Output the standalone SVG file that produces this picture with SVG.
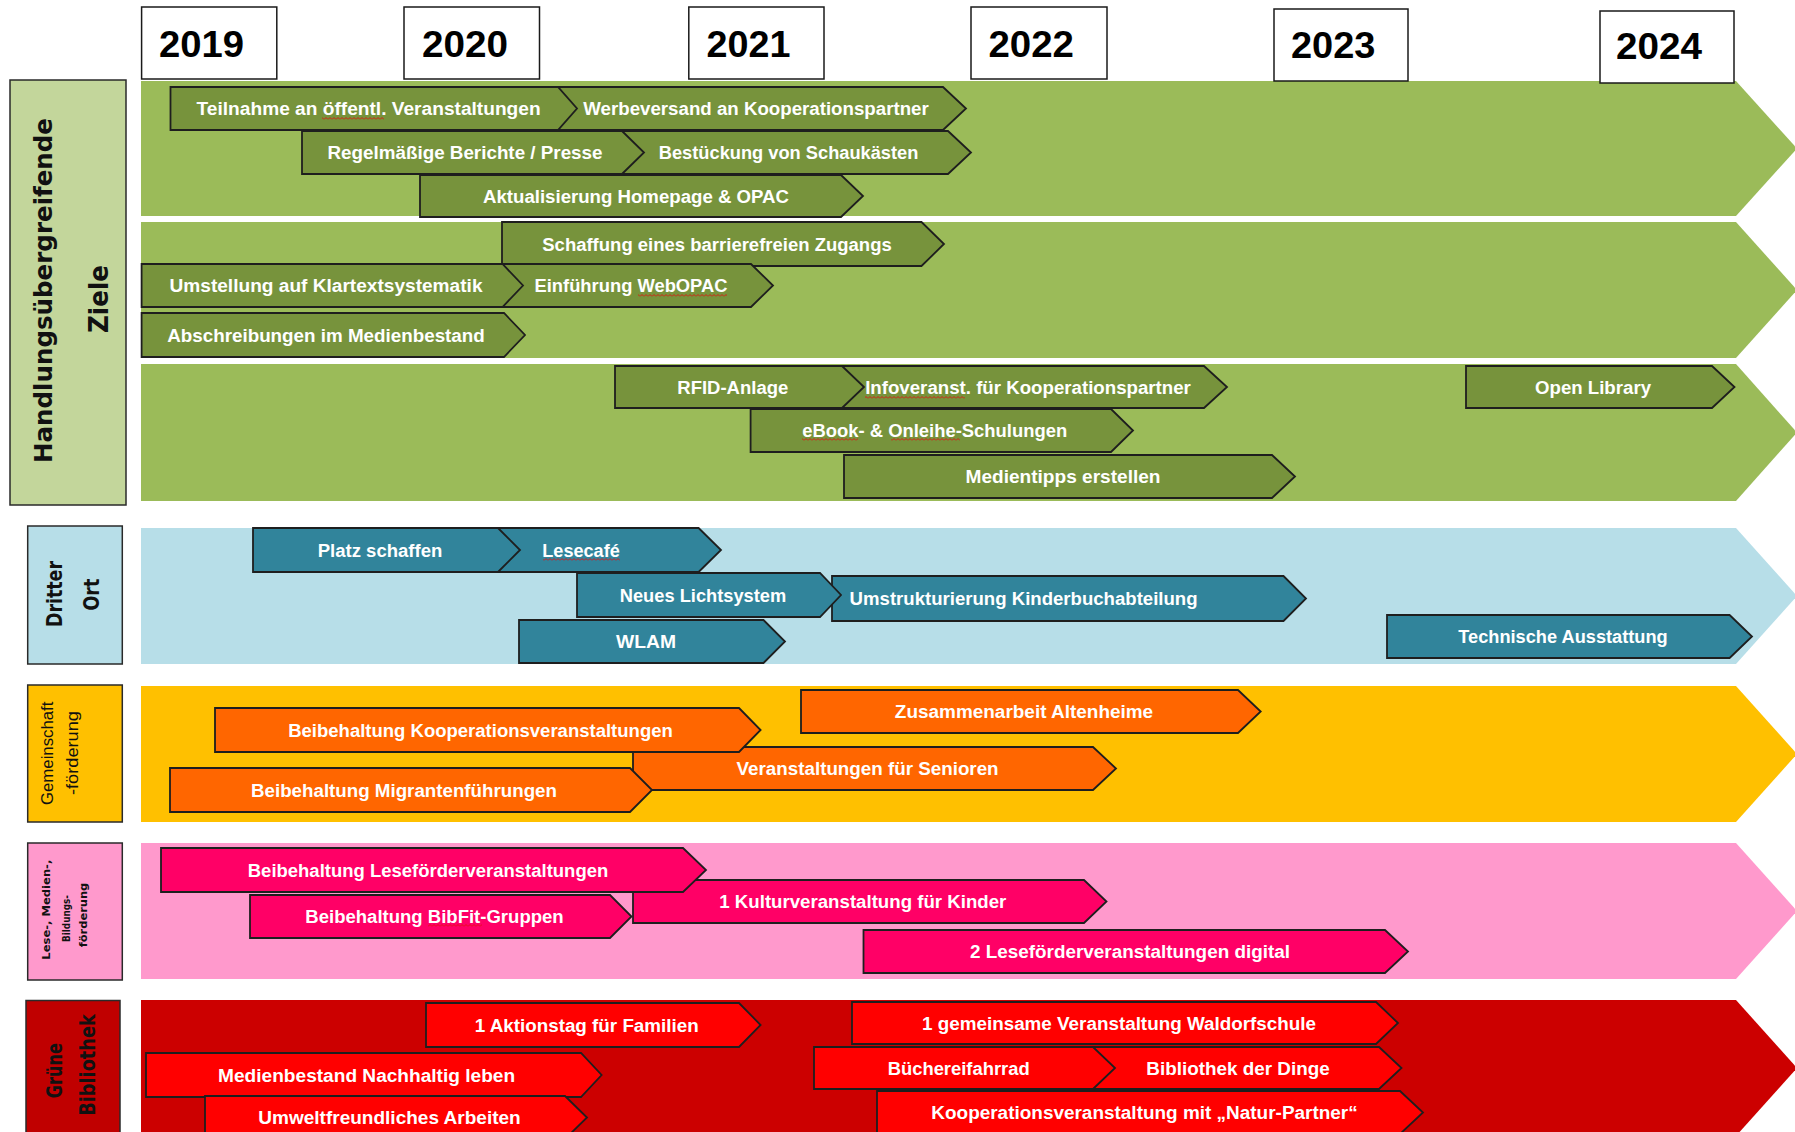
<svg xmlns="http://www.w3.org/2000/svg" width="1795" height="1132" viewBox="0 0 1795 1132">
<style>
.band-g{fill:#9bbb59}
.band-b{fill:#b7dee8}
.band-y{fill:#ffc000}
.band-p{fill:#ff99cc}
.band-r{fill:#cc0000}
.t{stroke:#1e1e1e;stroke-width:1.8;stroke-linejoin:miter}
.tg{fill:#77933c}
.tb{fill:#31849b}
.ty{fill:#ff6600}
.tp{fill:#ff0066}
.tr{fill:#ff0000}
.lbl{fill:#ffffff;font-family:"Liberation Sans",Arial,sans-serif;font-weight:bold;font-size:18px;text-anchor:middle}
.yr{fill:#ffffff;stroke:#1a1a1a;stroke-width:1.5}
.yt{fill:#000000;font-family:"Liberation Sans",Arial,sans-serif;font-weight:bold;font-size:36px}
.side{stroke:#2a2a2a;stroke-width:1.5}
.st{font-family:"DejaVu Sans",Verdana,sans-serif;font-weight:bold;text-anchor:middle;fill:#111111}
.sq{fill:url(#squig)}
</style>
<defs>
<pattern id="squig" patternUnits="userSpaceOnUse" x="0" y="0" width="4" height="3">
<path d="M0,2.5 L2,0.5 L4,2.5" fill="none" stroke="#e01010" stroke-width="0.9"/>
</pattern>
</defs>

<g id="bands">
<path id="band-1" class="band-g" d="M141,81 H1736 L1797,148.5 L1736,216 H141 Z"/>
<path id="band-2" class="band-g" d="M141,222 H1736 L1797,290 L1736,358 H141 Z"/>
<path id="band-3" class="band-g" d="M141,364 H1736 L1797,432.5 L1736,501 H141 Z"/>
<path id="band-dritter-ort" class="band-b" d="M141,528 H1736 L1797,596 L1736,664 H141 Z"/>
<path id="band-gemeinschaft" class="band-y" d="M141,686 H1736 L1797,754 L1736,822 H141 Z"/>
<path id="band-lese" class="band-p" d="M141,843 H1736 L1797,911 L1736,979 H141 Z"/>
<path id="band-gruene" class="band-r" d="M141,1000 H1736 L1797,1068 L1736,1136 H141 Z"/>
</g>

<g id="connectors"></g>

<g id="label-handlung">
<rect class="side" x="10" y="80" width="116" height="425" fill="#c3d69b"/>
<text class="st" font-size="25" textLength="345" lengthAdjust="spacingAndGlyphs" transform="translate(51.7,290.5) rotate(-90)">Handlungsübergreifende</text>
<text class="st" font-size="27" textLength="68" lengthAdjust="spacingAndGlyphs" transform="translate(108.3,299) rotate(-90)">Ziele</text>
</g>
<g id="label-dritter-ort">
<rect class="side" x="27.7" y="526" width="94.6" height="138" fill="#b7dee8"/>
<text class="st" font-size="22" textLength="66" lengthAdjust="spacingAndGlyphs" transform="translate(61.5,594) rotate(-90)">Dritter</text>
<text class="st" font-size="22" textLength="32" lengthAdjust="spacingAndGlyphs" transform="translate(98.5,594.6) rotate(-90)">Ort</text>
</g>
<g id="label-gemeinschaft">
<rect class="side" x="27.7" y="685" width="94.6" height="137" fill="#ffc000"/>
<text font-family="'Liberation Sans',Arial,sans-serif" font-size="16" fill="#111" text-anchor="middle" textLength="103.5" lengthAdjust="spacingAndGlyphs" transform="translate(53.4,753.3) rotate(-90)">Gemeinschaft</text>
<text font-family="'Liberation Sans',Arial,sans-serif" font-size="16" fill="#111" text-anchor="middle" textLength="84" lengthAdjust="spacingAndGlyphs" transform="translate(78.4,753) rotate(-90)">-förderung</text>
</g>
<g id="label-lese">
<rect class="side" x="27.7" y="843" width="94.6" height="137" fill="#ff99cc"/>
<text class="st" font-size="11" textLength="100" lengthAdjust="spacingAndGlyphs" transform="translate(50,909.7) rotate(-90)">Lese-, Medien-,</text>
<text class="st" font-size="11" textLength="47" lengthAdjust="spacingAndGlyphs" transform="translate(70,918.5) rotate(-90)">Bildungs-</text>
<text class="st" font-size="11" textLength="64.5" lengthAdjust="spacingAndGlyphs" transform="translate(86.5,915) rotate(-90)">förderung</text>
</g>
<g id="label-gruene">
<rect class="side" x="26" y="1000.5" width="94" height="140" fill="#c00000"/>
<text class="st" font-size="22" fill="#1c1c1c" textLength="55" lengthAdjust="spacingAndGlyphs" transform="translate(62,1070.7) rotate(-90)">Grüne</text>
<text class="st" font-size="22" fill="#1c1c1c" textLength="101.6" lengthAdjust="spacingAndGlyphs" transform="translate(94.5,1065) rotate(-90)">Bibliothek</text>
</g>

<g id="task-werbeversand"><polygon class="t tg" points="558,87 943,87 966,108.5 943,130 558,130"/><text class="lbl" x="756" y="115" textLength="345.5" lengthAdjust="spacingAndGlyphs">Werbeversand an Kooperationspartner</text></g>
<g id="task-teilnahme"><polygon class="t tg" points="170.5,87 558,87 577,108.5 558,130 170.5,130"/><text class="lbl" x="368.6" y="115" textLength="344" lengthAdjust="spacingAndGlyphs">Teilnahme an öffentl. Veranstaltungen</text></g>
<g id="task-bestueckung"><polygon class="t tg" points="622,131 948,131 971,152.5 948,174 622,174"/><text class="lbl" x="788.6" y="159" textLength="259.6" lengthAdjust="spacingAndGlyphs">Bestückung von Schaukästen</text></g>
<g id="task-berichte"><polygon class="t tg" points="302,131 622,131 644,152.5 622,174 302,174"/><text class="lbl" x="465" y="159" textLength="275" lengthAdjust="spacingAndGlyphs">Regelmäßige Berichte / Presse</text></g>
<g id="task-homepage"><polygon class="t tg" points="420,175 841,175 863,196 841,217 420,217"/><text class="lbl" x="636" y="202.5" textLength="306" lengthAdjust="spacingAndGlyphs">Aktualisierung Homepage &amp; OPAC</text></g>

<g id="task-barrierefrei"><polygon class="t tg" points="502,222 921.5,222 944,244 921.5,266 502,266"/><text class="lbl" x="717" y="250.5" textLength="349.5" lengthAdjust="spacingAndGlyphs">Schaffung eines barrierefreien Zugangs</text></g>
<g id="task-webopac"><polygon class="t tg" points="502.5,264 751,264 773,285.5 751,307 502.5,307"/><text class="lbl" x="631" y="292" textLength="193" lengthAdjust="spacingAndGlyphs">Einführung WebOPAC</text></g>
<g id="task-klartext"><polygon class="t tg" points="141.6,264 502.5,264 523,285.5 502.5,307 141.6,307"/><text class="lbl" x="326" y="292" textLength="313" lengthAdjust="spacingAndGlyphs">Umstellung auf Klartextsystematik</text></g>
<g id="task-abschreibungen"><polygon class="t tg" points="141.6,313 504,313 525,335 504,357 141.6,357"/><text class="lbl" x="326" y="341.5" textLength="317.6" lengthAdjust="spacingAndGlyphs">Abschreibungen im Medienbestand</text></g>

<g id="task-infoveranst"><polygon class="t tg" points="842,366 1204,366 1227,387 1204,408 842,408"/><text class="lbl" x="1028" y="393.5" textLength="325.7" lengthAdjust="spacingAndGlyphs">Infoveranst. für Kooperationspartner</text></g>
<g id="task-rfid"><polygon class="t tg" points="615,366 842,366 864,387 842,408 615,408"/><text class="lbl" x="732.8" y="393.5" textLength="111" lengthAdjust="spacingAndGlyphs">RFID-Anlage</text></g>
<g id="task-ebook"><polygon class="t tg" points="750.6,409 1111,409 1133,430.5 1111,452 750.6,452"/><text class="lbl" x="934.7" y="437" textLength="265" lengthAdjust="spacingAndGlyphs">eBook- &amp; Onleihe-Schulungen</text></g>
<g id="task-medientipps"><polygon class="t tg" points="844,455 1272,455 1295,476.5 1272,498 844,498"/><text class="lbl" x="1063" y="483" textLength="195" lengthAdjust="spacingAndGlyphs">Medientipps erstellen</text></g>
<g id="task-openlibrary"><polygon class="t tg" points="1466,366 1712,366 1734.5,387 1712,408 1466,408"/><text class="lbl" x="1593" y="393.5" textLength="116" lengthAdjust="spacingAndGlyphs">Open Library</text></g>

<g id="task-lesecafe"><polygon class="t tb" points="498,528 698.6,528 721,550 698.6,572 498,572"/><text class="lbl" x="581" y="556.5" textLength="77.5" lengthAdjust="spacingAndGlyphs">Lesecafé</text></g>
<g id="task-platz"><polygon class="t tb" points="253,528 498,528 520,550 498,572 253,572"/><text class="lbl" x="380" y="556.5" textLength="124.6" lengthAdjust="spacingAndGlyphs">Platz schaffen</text></g>
<g id="task-kinderbuch"><polygon class="t tb" points="832,576 1283.5,576 1306,598.5 1283.5,621 832,621"/><text class="lbl" x="1023.6" y="605" textLength="348" lengthAdjust="spacingAndGlyphs">Umstrukturierung Kinderbuchabteilung</text></g>
<g id="task-licht"><polygon class="t tb" points="577,573 820,573 841,595 820,617 577,617"/><text class="lbl" x="703" y="601.5" textLength="166.5" lengthAdjust="spacingAndGlyphs">Neues Lichtsystem</text></g>
<g id="task-wlam"><polygon class="t tb" points="519,620 763.5,620 785,641.5 763.5,663 519,663"/><text class="lbl" x="646" y="648" textLength="60" lengthAdjust="spacingAndGlyphs">WLAM</text></g>
<g id="task-technik"><polygon class="t tb" points="1387,615 1729.6,615 1752,636.5 1729.6,658 1387,658"/><text class="lbl" x="1563" y="643" textLength="209.4" lengthAdjust="spacingAndGlyphs">Technische Ausstattung</text></g>

<g id="task-altenheime"><polygon class="t ty" points="801,690 1238,690 1260.7,711.5 1238,733 801,733"/><text class="lbl" x="1024" y="718" textLength="258.3" lengthAdjust="spacingAndGlyphs">Zusammenarbeit Altenheime</text></g>
<g id="task-senioren"><polygon class="t ty" points="633,747 1093,747 1116,768.5 1093,790 633,790"/><text class="lbl" x="867.6" y="775" textLength="262" lengthAdjust="spacingAndGlyphs">Veranstaltungen für Senioren</text></g>
<g id="task-kooperation"><polygon class="t ty" points="215,708 739,708 760.6,730 739,752 215,752"/><text class="lbl" x="480.5" y="736.5" textLength="384.6" lengthAdjust="spacingAndGlyphs">Beibehaltung Kooperationsveranstaltungen</text></g>
<g id="task-migranten"><polygon class="t ty" points="170,768 630,768 652,790 630,812 170,812"/><text class="lbl" x="404" y="796.5" textLength="306" lengthAdjust="spacingAndGlyphs">Beibehaltung Migrantenführungen</text></g>

<g id="task-kultur"><polygon class="t tp" points="633,880 1084,880 1106.5,901.5 1084,923 633,923"/><text class="lbl" x="862.8" y="908" textLength="287" lengthAdjust="spacingAndGlyphs">1 Kulturveranstaltung für Kinder</text></g>
<g id="task-lesefoerder"><polygon class="t tp" points="161,848 683,848 706,870 683,892 161,892"/><text class="lbl" x="428" y="876.5" textLength="360.5" lengthAdjust="spacingAndGlyphs">Beibehaltung Leseförderveranstaltungen</text></g>
<g id="task-bibfit"><polygon class="t tp" points="250,895 610,895 631.5,916.5 610,938 250,938"/><text class="lbl" x="434.5" y="923" textLength="258.3" lengthAdjust="spacingAndGlyphs">Beibehaltung BibFit-Gruppen</text></g>
<g id="task-digital"><polygon class="t tp" points="863.5,930 1385,930 1408,951.5 1385,973 863.5,973"/><text class="lbl" x="1130" y="958" textLength="320" lengthAdjust="spacingAndGlyphs">2 Leseförderveranstaltungen digital</text></g>

<g id="task-aktionstag"><polygon class="t tr" points="426,1003 739,1003 760.6,1025 739,1047 426,1047"/><text class="lbl" x="586.7" y="1031.5" textLength="224" lengthAdjust="spacingAndGlyphs">1 Aktionstag für Familien</text></g>
<g id="task-medienbestand"><polygon class="t tr" points="146,1053 581,1053 601.6,1075 581,1097 146,1097"/><text class="lbl" x="366.6" y="1081.5" textLength="297" lengthAdjust="spacingAndGlyphs">Medienbestand Nachhaltig leben</text></g>
<g id="task-umwelt"><polygon class="t tr" points="205,1096 565,1096 587,1117.5 565,1139 205,1139"/><text class="lbl" x="389.5" y="1124" textLength="262.4" lengthAdjust="spacingAndGlyphs">Umweltfreundliches Arbeiten</text></g>
<g id="task-waldorf"><polygon class="t tr" points="852,1002 1376,1002 1398,1023 1376,1044 852,1044"/><text class="lbl" x="1119" y="1029.5" textLength="394" lengthAdjust="spacingAndGlyphs">1 gemeinsame Veranstaltung Waldorfschule</text></g>
<g id="task-dinge"><polygon class="t tr" points="1093,1047 1379,1047 1401.5,1068 1379,1089 1093,1089"/><text class="lbl" x="1238" y="1074.5" textLength="183.4" lengthAdjust="spacingAndGlyphs">Bibliothek der Dinge</text></g>
<g id="task-fahrrad"><polygon class="t tr" points="814,1047 1093,1047 1115,1068 1093,1089 814,1089"/><text class="lbl" x="958.7" y="1074.5" textLength="142" lengthAdjust="spacingAndGlyphs">Büchereifahrrad</text></g>
<g id="task-natur"><polygon class="t tr" points="877,1091 1400,1091 1423,1112.5 1400,1134 877,1134"/><text class="lbl" x="1144.5" y="1119" textLength="426.4" lengthAdjust="spacingAndGlyphs">Kooperationsveranstaltung mit „Natur-Partner“</text></g>

<g id="spellmarks">
<rect class="sq" x="322" y="117" width="62" height="3"/>
<rect class="sq" x="638" y="294" width="89" height="3"/>
<rect class="sq" x="865" y="396" width="100" height="3"/>
<rect class="sq" x="802" y="438" width="56" height="3"/>
<rect class="sq" x="891" y="438" width="69" height="3"/>
<rect class="sq" x="543" y="558" width="77" height="3"/>
<rect class="sq" x="428" y="924" width="54" height="3"/>
</g>

<g id="year-2019"><rect class="yr" x="141.6" y="7" width="135.2" height="72"/><text class="yt" x="159" y="57" textLength="85" lengthAdjust="spacingAndGlyphs">2019</text></g>
<g id="year-2020"><rect class="yr" x="404" y="7" width="135.5" height="72"/><text class="yt" x="422" y="57" textLength="86" lengthAdjust="spacingAndGlyphs">2020</text></g>
<g id="year-2021"><rect class="yr" x="688.8" y="7" width="135.2" height="72"/><text class="yt" x="706.6" y="57" textLength="84" lengthAdjust="spacingAndGlyphs">2021</text></g>
<g id="year-2022"><rect class="yr" x="971" y="7" width="136" height="72"/><text class="yt" x="988.5" y="57" textLength="85.5" lengthAdjust="spacingAndGlyphs">2022</text></g>
<g id="year-2023"><rect class="yr" x="1274" y="9" width="134" height="72"/><text class="yt" x="1291" y="58" textLength="84.5" lengthAdjust="spacingAndGlyphs">2023</text></g>
<g id="year-2024"><rect class="yr" x="1600" y="11" width="134" height="72"/><text class="yt" x="1616" y="59" textLength="86" lengthAdjust="spacingAndGlyphs">2024</text></g>
</svg>
